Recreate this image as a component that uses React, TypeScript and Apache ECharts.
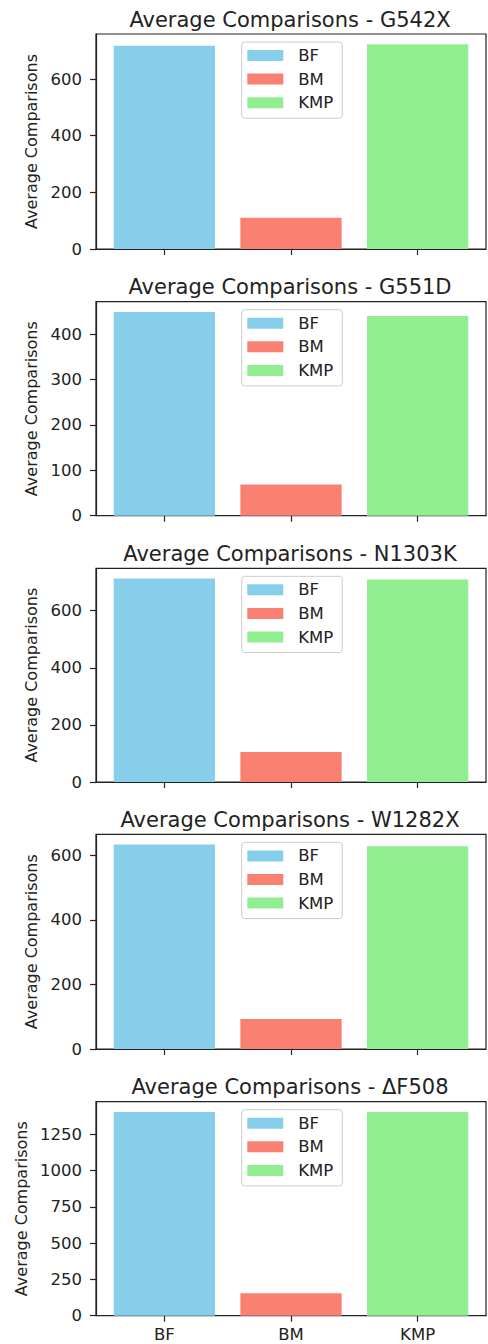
import React, { useEffect, useRef } from "react";
import * as echarts from "echarts";

const categories = ["BF", "BM", "KMP"];
const mutations = ["G542X", "G551D", "N1303K", "W1282X", "ΔF508"];
const bfValues = [718, 449, 713, 633, 1404];
const bmValues = [110, 69, 105, 93, 154];
const kmpValues = [723, 440, 709, 628, 1404];
const yTicks = [
  [0, 200, 400, 600],
  [0, 100, 200, 300, 400],
  [0, 200, 400, 600],
  [0, 200, 400, 600],
  [0, 250, 500, 750, 1000, 1250],
];
const xTicks = [0, 1, 2];
const colors = ["#87CEEB", "#FA8072", "#90EE90"];

const FONT = "DejaVu Sans";
const INK = "#222222";
const gridLeft = 96;
const gridWidth = 390;
const gridTops = [34, 301.7, 568.3, 834.4, 1101.7];
const gridHeights = [215, 214, 213.7, 214.6, 214];

export default function App() {
  const ref = useRef<HTMLDivElement>(null);
  useEffect(() => {
    if (!ref.current) return;
    const chart = echarts.init(ref.current, undefined, { renderer: "svg" });
    const seriesValues = [bfValues, bmValues, kmpValues];
    const grids: any[] = [];
    const xAxes: any[] = [];
    const yAxes: any[] = [];
    const series: any[] = [];
    const legends: any[] = [];
    const graphics: any[] = [];
    const xMin = -0.54;
    const xMax = 2.54;
    const barPx = (0.8 * gridWidth) / (xMax - xMin);

    mutations.forEach((m, i) => {
      grids.push({
        left: gridLeft,
        top: gridTops[i],
        width: gridWidth,
        height: gridHeights[i],
        show: true,
        borderColor: INK,
        borderWidth: 1.2,
        backgroundColor: "transparent",
      });
      const isLast = i === mutations.length - 1;
      xAxes.push({
        type: "value",
        gridIndex: i,
        min: xMin,
        max: xMax,
        axisLine: { show: true, onZero: false, lineStyle: { color: INK, width: 1.2 } },
        axisTick: {
          show: true,
          length: 6,
          customValues: xTicks,
          lineStyle: { color: INK, width: 1.2 },
        },
        axisLabel: {
          show: isLast,
          customValues: xTicks,
          formatter: (v: number) => categories[Math.round(v)] ?? "",
          fontSize: 16.5,
          fontFamily: FONT,
          color: INK,
          margin: 10,
        },
        splitLine: { show: false },
      });
      const maxVal = Math.max(bfValues[i], bmValues[i], kmpValues[i]) * 1.05;
      yAxes.push({
        type: "value",
        gridIndex: i,
        min: 0,
        max: maxVal,
        name: "Average Comparisons",
        nameLocation: "middle",
        nameGap: 57,
        nameTextStyle: { fontSize: 16, fontFamily: FONT, color: INK },
        axisLine: { show: true, onZero: false, lineStyle: { color: INK, width: 1.2 } },
        axisTick: {
          show: true,
          length: 6,
          customValues: yTicks[i],
          lineStyle: { color: INK, width: 1.2 },
        },
        axisLabel: {
          customValues: yTicks[i],
          formatter: (v: number) => String(v),
          fontSize: 16.5,
          fontFamily: FONT,
          color: INK,
          margin: 14,
        },
        splitLine: { show: false },
      });
      categories.forEach((c, j) => {
        series.push({
          type: "bar",
          name: c,
          xAxisIndex: i,
          yAxisIndex: i,
          barWidth: barPx,
          barGap: "-100%",
          itemStyle: { color: colors[j] },
          data: [[j, seriesValues[j][i]]],
        });
      });
      legends.push({
        orient: "vertical",
        left: 241.7,
        top: gridTops[i] + 8,
        data: categories,
        icon: "rect",
        itemWidth: 36,
        itemHeight: 11,
        itemGap: 6.6,
        padding: [5, 9, 7, 5.6],
        backgroundColor: "rgba(255,255,255,0.8)",
        borderColor: "#cccccc",
        borderWidth: 1,
        borderRadius: 3,
        selectedMode: false,
        textStyle: {
          fontSize: 16.5,
          fontFamily: FONT,
          color: INK,
          lineHeight: 17,
          padding: [0, 0, 0, 10],
        },
      });
      graphics.push({
        type: "text",
        x: gridLeft + gridWidth / 2 - 1,
        y: gridTops[i] - 14.4,
        style: {
          text: "Average Comparisons - " + m,
          textAlign: "center",
          textVerticalAlign: "middle",
          fontSize: 21,
          fontFamily: FONT,
          fill: INK,
        },
      });
    });

    chart.setOption({
      animation: false,
      backgroundColor: "#ffffff",
      grid: grids,
      xAxis: xAxes,
      yAxis: yAxes,
      series,
      legend: legends,
      graphic: graphics,
    });
    return () => chart.dispose();
  }, []);
  return (
    <div
      ref={ref}
      style={{ position: "absolute", left: 0, top: 0, width: 488, height: 1344 }}
    />
  );
}
